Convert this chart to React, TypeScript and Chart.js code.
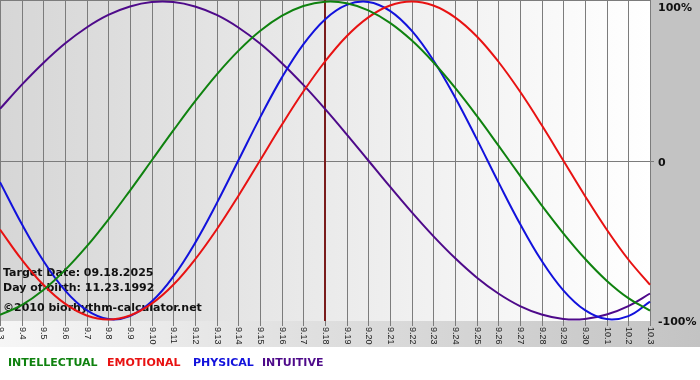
import React, { useEffect, useRef } from 'react';
import { Chart, registerables } from 'chart.js';

Chart.register(...registerables);

const dates = [
  '9.3', '9.4', '9.5', '9.6', '9.7', '9.8', '9.9', '9.10', '9.11', '9.12', '9.13',
  '9.14', '9.15', '9.16', '9.17', '9.18', '9.19', '9.20', '9.21', '9.22', '9.23',
  '9.24', '9.25', '9.26', '9.27', '9.28', '9.29', '9.30', '10.1', '10.2', '10.3',
];

const intellectual = [
  -97.2, -91.0, -81.5, -69.0, -54.1, -37.2, -18.9, 0, 18.9, 37.2, 54.1,
  69.0, 81.5, 91.0, 97.2, 99.9, 99.0, 94.5, 86.6, 75.6, 61.8,
  45.8, 28.2, 9.5, -9.5, -28.2, -45.8, -61.8, -75.6, -86.6, -94.5,
];

const emotional = [
  -43.4, -62.3, -78.2, -90.1, -97.5, -100, -97.5, -90.1, -78.2, -62.3, -43.4,
  -22.3, 0, 22.3, 43.4, 62.3, 78.2, 90.1, 97.5, 100, 97.5,
  90.1, 78.2, 62.3, 43.4, 22.3, 0, -22.3, -43.4, -62.3, -78.2,
];

const physical = [
  -13.6, -39.8, -63.1, -81.7, -94.2, -99.8, -97.9, -88.8, -73.1, -52.0, -27.0,
  0, 27.0, 52.0, 73.1, 88.8, 97.9, 99.8, 94.2, 81.7, 63.1,
  39.8, 13.6, -13.6, -39.8, -63.1, -81.7, -94.2, -99.8, -97.9, -88.8,
];

const intuitive = [
  32.5, 47.6, 61.4, 73.6, 83.7, 91.6, 96.9, 99.7, 99.7, 96.9, 91.6,
  83.7, 73.6, 61.4, 47.6, 32.5, 16.5, 0, -16.5, -32.5, -47.6,
  -61.4, -73.6, -83.7, -91.6, -96.9, -99.7, -99.7, -96.9, -91.6, -83.7,
];

const seriesNames = ['INTELLECTUAL', 'EMOTIONAL', 'PHYSICAL', 'INTUITIVE'];
const seriesColors = ['#0f820f', '#e81212', '#1212dc', '#4e0a8a'];

const rightTickValues = [100, 0, -100];
const rightTickLabels = ['100%', '0', '-100%'];

const targetDate = '9.18';
const infoLines = ['Target Date: 09.18.2025', 'Day of birth: 11.23.1992', '©2010 biorhythm-calculator.net'];

const legendX = [8, 107, 193, 262];

const decorPlugin = {
  id: 'decor',
  beforeDraw(chart: any) {
    const { ctx, chartArea: a, width, height } = chart;
    ctx.save();
    ctx.fillStyle = '#ffffff';
    ctx.fillRect(0, 0, width, height);
    // plot background
    const g = ctx.createLinearGradient(a.left, 0, a.right, 0);
    g.addColorStop(0, '#d6d6d6');
    g.addColorStop(1, '#ffffff');
    ctx.fillStyle = g;
    ctx.fillRect(a.left, a.top, a.right - a.left, a.bottom - a.top);
    // right panel
    ctx.fillStyle = '#c3c3c3';
    ctx.fillRect(a.right, 0, width - a.right, a.bottom);
    // bottom strip
    const g2 = ctx.createLinearGradient(0, 0, width, 0);
    g2.addColorStop(0, '#f6f6f6');
    g2.addColorStop(1, '#c3c3c3');
    ctx.fillStyle = g2;
    ctx.fillRect(0, a.bottom, width, 347 - a.bottom);
    ctx.restore();
  },
  beforeDatasetsDraw(chart: any) {
    const { ctx, chartArea: a, scales } = chart;
    const xs = scales.x;
    const ys = scales.y;
    ctx.save();
    ctx.strokeStyle = '#7c7c7c';
    ctx.lineWidth = 1;
    // vertical grid lines + ticks
    dates.forEach((d, i) => {
      const px = Math.round(xs.getPixelForValue(i)) + 0.5;
      ctx.beginPath();
      ctx.moveTo(px, a.top);
      ctx.lineTo(px, a.bottom + 5);
      ctx.stroke();
    });
    // top border
    ctx.beginPath();
    ctx.moveTo(a.left, a.top + 0.5);
    ctx.lineTo(a.right, a.top + 0.5);
    ctx.stroke();
    // zero line
    const zy = Math.round(ys.getPixelForValue(0)) + 0.5;
    ctx.beginPath();
    ctx.moveTo(a.left, zy);
    ctx.lineTo(a.right + 4, zy);
    ctx.stroke();
    // target line
    const ti = dates.indexOf(targetDate);
    const tx = Math.round(xs.getPixelForValue(ti));
    ctx.strokeStyle = '#7a1c1c';
    ctx.lineWidth = 2;
    ctx.beginPath();
    ctx.moveTo(tx, a.top);
    ctx.lineTo(tx, a.bottom);
    ctx.stroke();
    // info text
    ctx.fillStyle = '#111111';
    ctx.font = 'bold 11px "DejaVu Sans"';
    ctx.textAlign = 'left';
    ctx.textBaseline = 'alphabetic';
    ctx.fillText(infoLines[0], 3, 276);
    ctx.fillText(infoLines[1], 3, 291);
    ctx.fillText(infoLines[2], 3, 311);
    ctx.restore();
  },
  afterDraw(chart: any) {
    const { ctx, chartArea: a, scales } = chart;
    const xs = scales.x;
    const ys = scales.y;
    ctx.save();
    // x tick labels, rotated clockwise
    ctx.fillStyle = '#222222';
    ctx.font = '9px "Liberation Sans"';
    ctx.textAlign = 'left';
    ctx.textBaseline = 'middle';
    dates.forEach((d, i) => {
      const px = xs.getPixelForValue(i);
      ctx.save();
      ctx.translate(px + 0.5, a.bottom + 6);
      ctx.rotate(Math.PI / 2);
      ctx.fillText(d, 0, 0);
      ctx.restore();
    });
    // right axis labels
    ctx.fillStyle = '#111111';
    ctx.font = 'bold 11px "DejaVu Sans"';
    ctx.textBaseline = 'alphabetic';
    rightTickValues.forEach((v, i) => {
      const py = Math.max(ys.getPixelForValue(v) + 5.5, 11);
      ctx.fillText(rightTickLabels[i], a.right + 8, py);
    });
    // legend
    ctx.font = 'bold 11px "DejaVu Sans"';
    chart.data.datasets.forEach((ds: any, i: number) => {
      ctx.fillStyle = ds.borderColor;
      ctx.fillText(ds.label, legendX[i], 366);
    });
    ctx.restore();
  },
};

export default function App() {
  const ref = useRef<HTMLCanvasElement | null>(null);
  useEffect(() => {
    if (!ref.current) return;
    const values = [intellectual, emotional, physical, intuitive];
    const chart = new Chart(ref.current, {
      type: 'line',
      data: {
        labels: dates,
        datasets: values.map((v, i) => ({
          label: seriesNames[i],
          data: v,
          borderColor: seriesColors[i],
          backgroundColor: seriesColors[i],
          borderWidth: 2,
          pointRadius: 0,
          tension: 0.4,
          fill: false,
        })),
      },
      options: {
        responsive: false,
        animation: false,
        devicePixelRatio: 1,
        layout: { padding: { left: 0, top: 0, right: 50, bottom: 59 } },
        plugins: { legend: { display: false }, tooltip: { enabled: false } },
        scales: {
          x: { type: 'category', display: false, offset: false },
          y: { type: 'linear', display: false, min: -101, max: 101 },
        },
      },
      plugins: [decorPlugin],
    });
    return () => chart.destroy();
  }, []);
  return (
    <div style={{ position: 'absolute', left: 0, top: 0, width: 700, height: 380 }}>
      <canvas ref={ref} width={700} height={380} style={{ width: 700, height: 380, display: 'block' }} />
    </div>
  );
}
